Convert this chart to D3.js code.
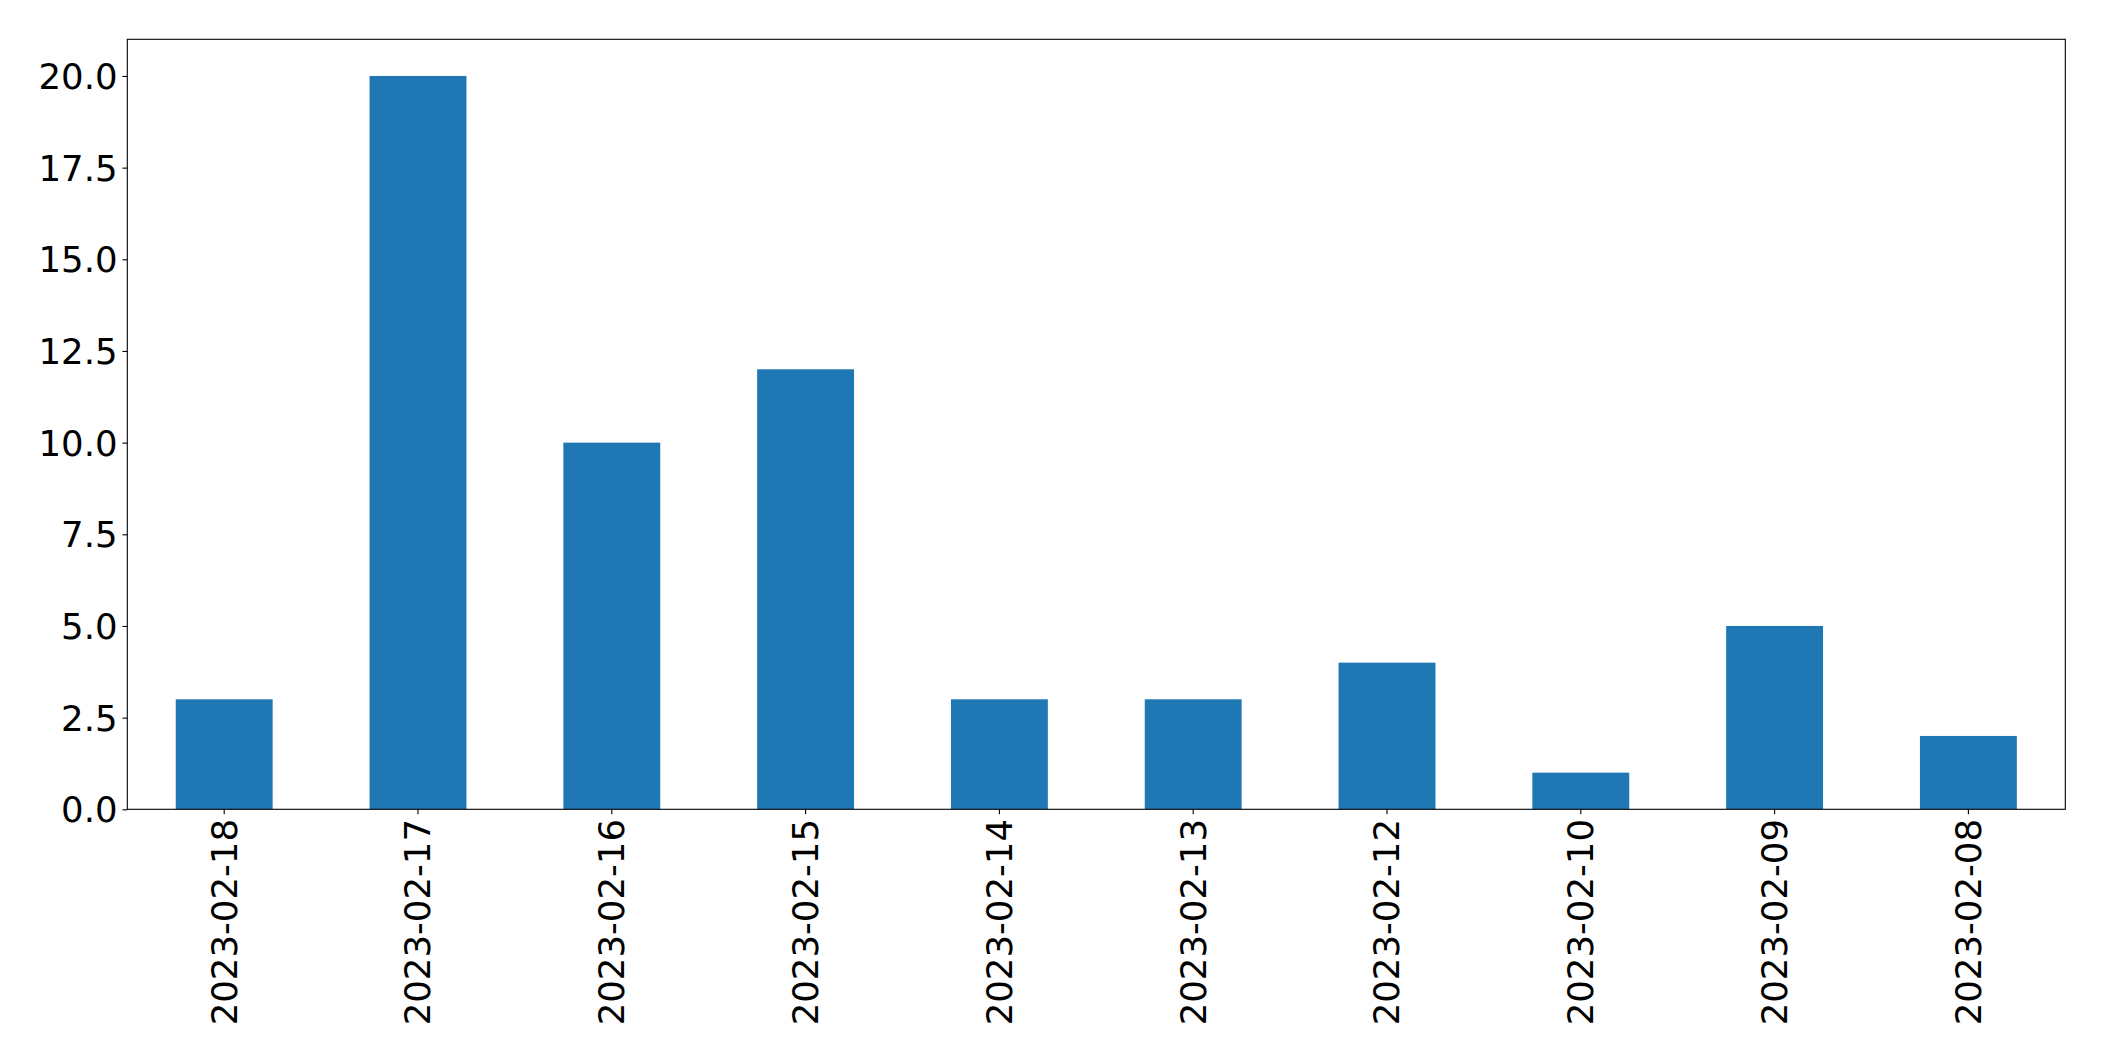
<!DOCTYPE html>
<html><head><meta charset="utf-8">
<script src="https://cdn.jsdelivr.net/npm/d3@7"></script>
<style>body{margin:0;background:#fff}svg{display:block}text{font-family:"DejaVu Sans",sans-serif}</style>
</head><body>
<svg id="c" width="2104" height="1061"></svg>
<script>
const categories = ["2023-02-18","2023-02-17","2023-02-16","2023-02-15","2023-02-14","2023-02-13","2023-02-12","2023-02-10","2023-02-09","2023-02-08"];
const values = [3,20,10,12,3,3,4,1,5,2];
const yTicks = [0,2.5,5,7.5,10,12.5,15,17.5,20];

const L=127.3, R=2065.3, T=39.3, B=809.3;
const svg=d3.select("#c");
const x=d3.scaleBand().domain(categories).range([L,R]).paddingInner(0.5).paddingOuter(0.25);
const y=d3.scaleLinear().domain([0,21]).range([B,T]);

svg.append("g").selectAll("rect").data(values).join("rect")
 .attr("x",(d,i)=>x(categories[i])).attr("width",x.bandwidth())
 .attr("y",d=>y(d)).attr("height",d=>B-y(d)).attr("fill","#1f77b4");

const fs="35.5px";
const ya=svg.append("g").attr("transform",`translate(${L},0)`)
 .call(d3.axisLeft(y).tickValues(yTicks).tickFormat(d3.format(".1f")).tickSize(4.86).tickPadding(4.86));
ya.select(".domain").remove();
ya.selectAll("line").attr("stroke","#000").attr("stroke-width",1.1);
ya.selectAll("text").attr("font-size",fs).attr("fill","#000").attr("font-family","DejaVu Sans").attr("dy","0.35em");

const xa=svg.append("g").attr("transform",`translate(0,${B})`)
 .call(d3.axisBottom(x).tickSize(4.86).tickPadding(4.86));
xa.select(".domain").remove();
xa.selectAll("line").attr("stroke","#000").attr("stroke-width",1.1);
xa.selectAll("text").attr("font-size",fs).attr("fill","#000").attr("font-family","DejaVu Sans")
 .attr("transform","rotate(-90)").attr("text-anchor","end").attr("dy","0.35em")
 .attr("x",-9.72).attr("y",0);

svg.append("rect").attr("x",L).attr("y",T).attr("width",R-L).attr("height",B-T)
 .attr("fill","none").attr("stroke","#000").attr("stroke-width",1.1);
</script>
</body></html>
